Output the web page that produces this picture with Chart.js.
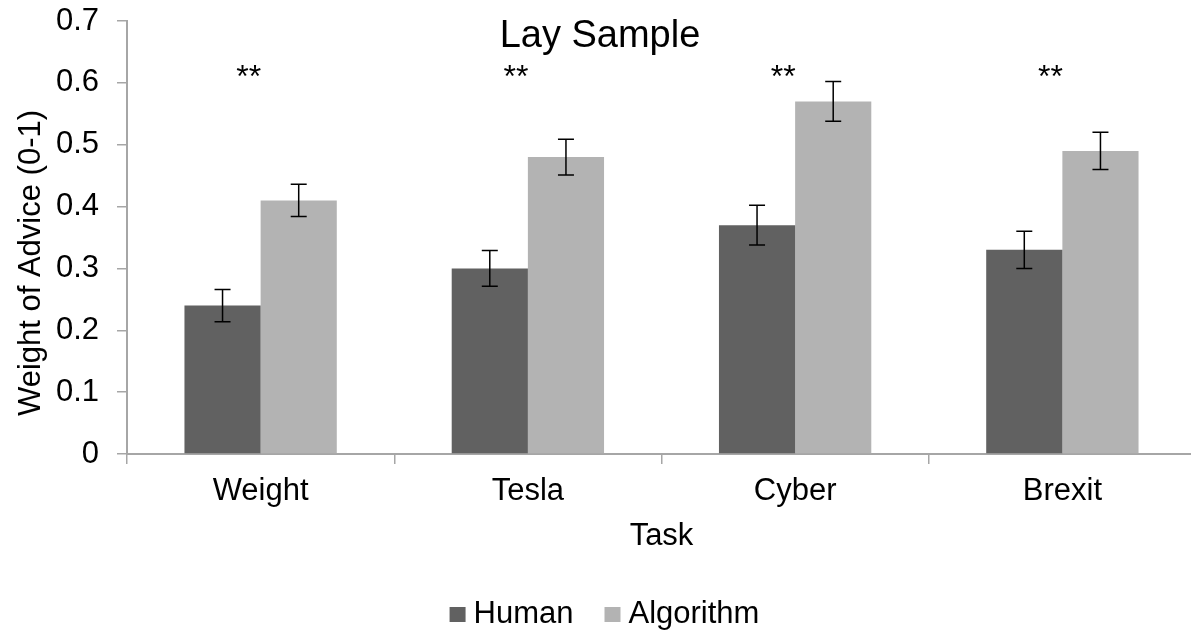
<!DOCTYPE html>
<html>
<head>
<meta charset="utf-8">
<script src="https://cdn.jsdelivr.net/npm/chart.js@4/dist/chart.umd.min.js"></script>
<style>
  html, body { margin: 0; padding: 0; overflow: hidden; background: #fff; }
  #wrap { width: 1196px; height: 632px; position: relative; }
</style>
</head>
<body>
<div id="wrap"><canvas id="c"></canvas></div>
<script>
const categories = ["Weight", "Tesla", "Cyber", "Brexit"];
const humanValues = [0.24, 0.30, 0.37, 0.33];
const algorithmValues = [0.41, 0.48, 0.57, 0.49];
const humanErrors = [0.026, 0.029, 0.032, 0.030];
const algorithmErrors = [0.026, 0.029, 0.032, 0.030];
const significance = ["**", "**", "**", "**"];
const yTickLabels = ["0", "0.1", "0.2", "0.3", "0.4", "0.5", "0.6", "0.7"];
const chartTitle = "Lay Sample";
const yAxisTitle = "Weight of Advice (0-1)";
const xAxisTitle = "Task";

const FONT = '"Liberation Sans", Arial, sans-serif';
const AXIS_COLOR = '#a6a6a6';

const overlay = {
  id: 'overlay',
  afterDatasetsDraw(chart) {
    const ctx = chart.ctx;
    const ys = chart.scales.y, xs = chart.scales.x;
    const errs = [humanErrors, algorithmErrors];
    ctx.save();
    ctx.strokeStyle = '#000';
    ctx.lineWidth = 1.5;
    chart.data.datasets.forEach((ds, di) => {
      const meta = chart.getDatasetMeta(di);
      meta.data.forEach((bar, i) => {
        const v = ds.data[i], e = errs[di][i];
        const x = bar.x;
        const yt = ys.getPixelForValue(v + e), yb = ys.getPixelForValue(v - e);
        ctx.beginPath();
        ctx.moveTo(x, yt); ctx.lineTo(x, yb);
        ctx.moveTo(x - 8, yt); ctx.lineTo(x + 8, yt);
        ctx.moveTo(x - 8, yb); ctx.lineTo(x + 8, yb);
        ctx.stroke();
      });
    });
    ctx.fillStyle = '#000';
    ctx.font = '32px ' + FONT;
    ctx.textAlign = 'center';
    ctx.textBaseline = 'alphabetic';
    significance.forEach((s, i) => {
      ctx.fillText(s, xs.getPixelForValue(i) - 12, 87);
    });
    ctx.restore();
  },
  afterDraw(chart) {
    const ctx = chart.ctx;
    ctx.save();
    ctx.fillStyle = '#000';
    ctx.font = '38px ' + FONT;
    ctx.textAlign = 'center';
    ctx.textBaseline = 'alphabetic';
    ctx.fillText(chartTitle, 600, 47);
    ctx.font = '31px ' + FONT;
    ctx.translate(31, 263);
    ctx.rotate(-Math.PI / 2);
    ctx.textBaseline = 'middle';
    ctx.fillText(yAxisTitle, 0, 0);
    ctx.restore();
    ctx.save();
    ctx.font = '31px ' + FONT;
    ctx.textBaseline = 'alphabetic';
    ctx.textAlign = 'left';
    const items = chart.data.datasets.map(d => ({label: d.label, color: d.backgroundColor}));
    const boxW = 16, boxH = 15, gapText = 8, gapItem = 31;
    let total = 0;
    items.forEach((it, k) => {
      it.w = ctx.measureText(it.label).width;
      total += boxW + gapText + it.w + (k < items.length - 1 ? gapItem : 0);
    });
    let x = 604.5 - total / 2;
    items.forEach(it => {
      ctx.fillStyle = it.color;
      ctx.fillRect(x, 607, boxW, boxH);
      ctx.fillStyle = '#000';
      ctx.fillText(it.label, x + boxW + gapText, 623);
      x += boxW + gapText + it.w + gapItem;
    });
    ctx.restore();
  }
};

new Chart(document.getElementById('c'), {
  type: 'bar',
  data: {
    labels: categories,
    datasets: [
      { label: 'Human', data: humanValues, backgroundColor: '#616161', borderWidth: 0 },
      { label: 'Algorithm', data: algorithmValues, backgroundColor: '#b3b3b3', borderWidth: 0 }
    ]
  },
  options: {
    responsive: true,
    maintainAspectRatio: false,
    animation: false,
    layout: { padding: { top: 21, left: 0, right: 0, bottom: 0 } },
    categoryPercentage: 0.57,
    barPercentage: 1.0,
    plugins: {
      legend: { display: false },
      title: { display: false },
      tooltip: { enabled: false }
    },
    scales: {
      x: {
        offset: true,
        grid: { display: true, offset: true, drawOnChartArea: false, drawTicks: true, tickLength: 10, color: AXIS_COLOR, lineWidth: 1.5 },
        border: { display: true, color: AXIS_COLOR, width: 2 },
        ticks: { color: '#000', font: { family: FONT, size: 31 }, padding: 9, maxRotation: 0 },
        title: { display: true, text: xAxisTitle, color: '#000', font: { family: FONT, size: 31 }, padding: { top: 0, bottom: 77 } },
        afterFit(scale) { scale.height = 178; scale.paddingLeft = 0; scale.paddingRight = 0; }
      },
      y: {
        min: 0,
        max: 0.7,
        ticks: {
          stepSize: 0.1,
          color: '#000',
          font: { family: FONT, size: 31 },
          padding: 18,
          callback: (v, i) => yTickLabels[i]
        },
        grid: { display: true, drawOnChartArea: false, drawTicks: true, tickLength: 10, color: AXIS_COLOR, lineWidth: 1.5 },
        border: { display: true, color: AXIS_COLOR, width: 2 },
        afterFit(scale) { scale.width = 127; scale.paddingTop = 0; scale.paddingBottom = 0; }
      }
    }
  },
  plugins: [overlay]
});
</script>
</body>
</html>
